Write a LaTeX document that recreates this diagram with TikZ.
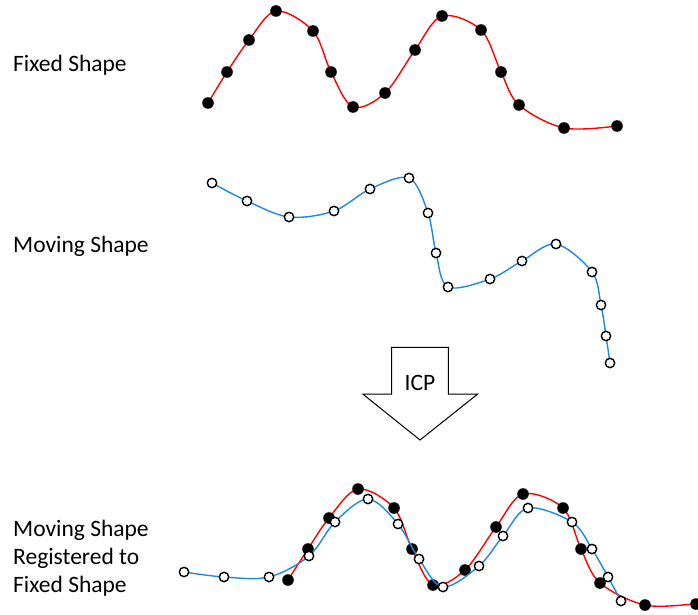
\documentclass[tikz,border=0pt]{standalone}
\usepackage{fontspec}
\setmainfont{Carlito}
\definecolor{fixred}{RGB}{255,0,0}
\definecolor{movblue}{RGB}{30,136,229}
\begin{document}
\begin{tikzpicture}[x=1pt,y=-1pt,
  fixcurve/.style={draw=fixred,line width=1.4pt,smooth,tension=0.55},
  movcurve/.style={draw=movblue,line width=1.4pt,smooth,tension=0.55},
  fixdot/.style={fill=black},
  movdot/.style={draw=black,fill=white,line width=1.4pt},
  lbl/.style={font=\fontsize{23.5}{28}\selectfont,anchor=west,align=left,inner sep=0pt}]
\useasboundingbox (0,0) rectangle (698,615);
\clip (0,0) rectangle (698,615);
% Fixed shape
\draw[fixcurve] plot coordinates {(208,103) (227,72) (249,40) (276,11) (313,31) (331,72) (353,107) (385,93) (415,50) (442,16) (481,30) (501,72) (519,105) (564,128) (617,126)};
\foreach \p in {(208,103),(227,72),(249,40),(276,11),(313,31),(331,72),(353,107),(385,93),(415,50),(442,16),(481,30),(501,72),(519,105),(564,128),(617,126)}
  \fill[fixdot] \p circle (5.8);
% Moving shape
\draw[movcurve] plot coordinates {(212,183) (247,201) (289,217) (334,211) (370,189) (409,178) (428,213) (436,253) (448,287) (490,279) (522,261) (556,244) (592,272) (601,305) (606,336) (610,363)};
\foreach \p in {(212,183),(247,201),(289,217),(334,211),(370,189),(409,178),(428,213),(436,253),(448,287),(490,279),(522,261),(556,244),(592,272),(601,305),(606,336),(610,363)}
  \draw[movdot] \p circle (4.7);
% Arrow
\draw[line width=1pt,fill=white] (391.7,347.3) -- (448.3,347.3) -- (448.3,394) -- (477.7,394) -- (420,440) -- (362.7,394) -- (391.7,394) -- cycle;
\node[font=\fontsize{23.5}{28}\selectfont,inner sep=0pt] (icp) at (420,383) {ICP};
% Registered
\draw[fixcurve] plot coordinates {(288,580) (308,549) (329,518) (358,489) (394,508) (412,549) (433,585) (465,570) (496,527) (523,494) (563,508) (581,549) (600,583) (645,605) (696,604) (720,602)};
\foreach \p in {(288,580),(308,549),(329,518),(358,489),(394,508),(412,549),(433,585),(465,570),(496,527),(523,494),(563,508),(581,549),(600,583),(645,605),(696,604)}
  \fill[fixdot] \p circle (5.8);
\draw[movcurve] plot coordinates {(184,572) (224,577) (269,577) (309,556) (335,522) (368,499) (398,524) (419,559) (443,587) (479,566) (503,536) (528,508) (572,522) (592,549) (608,577) (621,601)};
\foreach \p in {(184,572),(224,577),(269,577),(309,556),(335,522),(368,499),(398,524),(419,559),(443,587),(479,566),(503,536),(528,508),(572,522),(592,549),(608,577),(621,601)}
  \draw[movdot] \p circle (4.7);
% Labels
\node[lbl] (fixlbl) at (13,65) {Fixed Shape};
\node[lbl] (movlbl) at (13,246) {Moving Shape};
\node[lbl] (reglbl) at (13,558) {Moving Shape\\Registered to\\Fixed Shape};
\end{tikzpicture}
\end{document}
